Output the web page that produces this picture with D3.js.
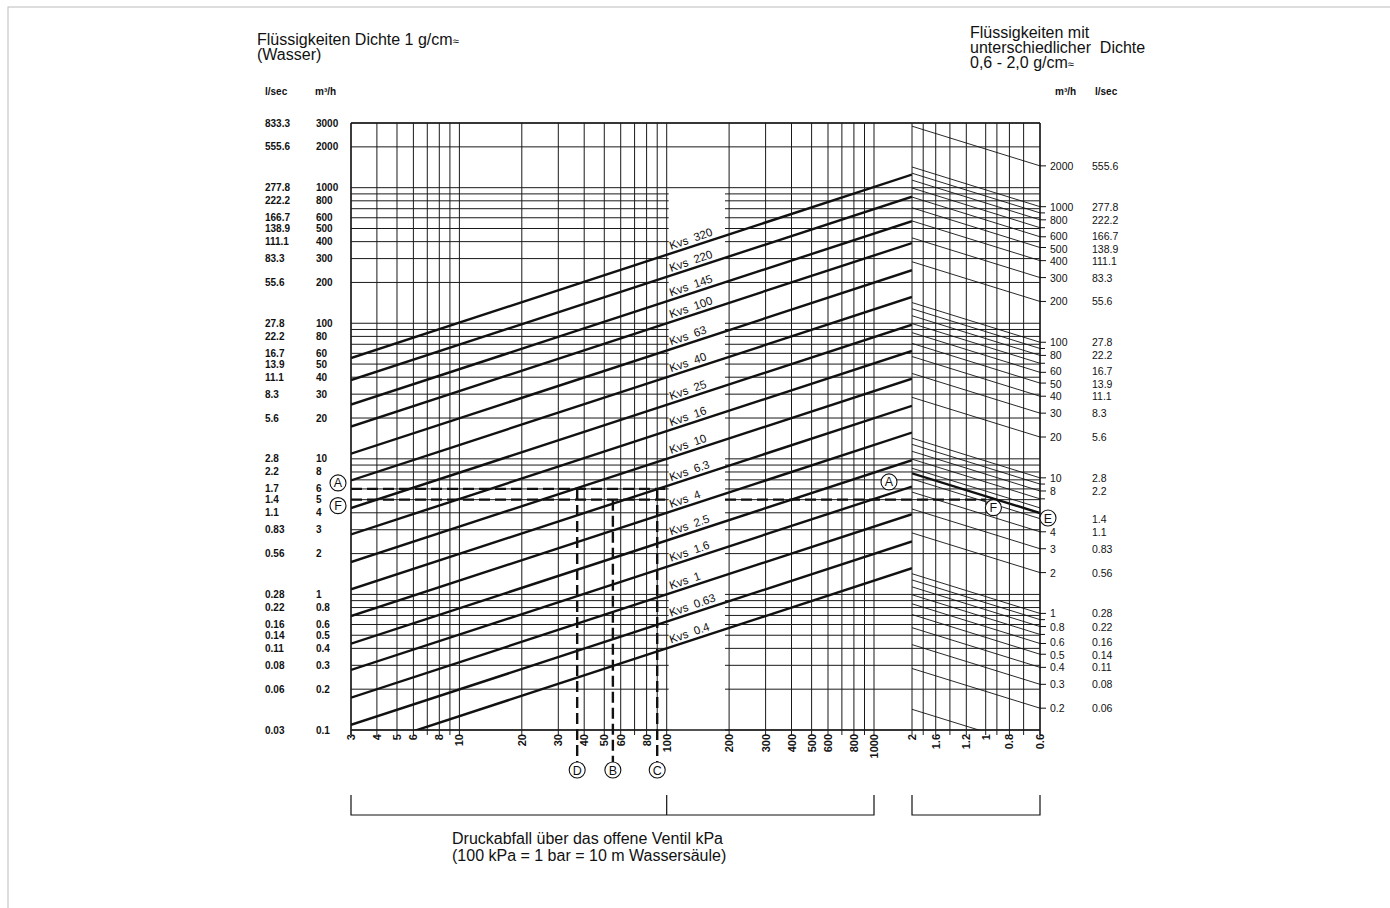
<!DOCTYPE html>
<html>
<head>
<meta charset="utf-8">
<script src="https://cdn.jsdelivr.net/npm/d3@7"></script>
<style>
  body { margin: 0; background: #fff; }
  text { font-family: "Liberation Sans", Arial, Helvetica, sans-serif; fill: #111; }
</style>
</head>
<body>
<div id="chart"></div>
<script>
// Kvs curves
const kvsValues = [320, 220, 145, 100, 63, 40, 25, 16, 10, 6.3, 4, 2.5, 1.6, 1, 0.63, 0.4];

// left flow axis (m3/h) with matching l/sec
const flowLabels = [3000, 2000, 1000, 800, 600, 500, 400, 300, 200, 100, 80, 60, 50, 40, 30, 20, 10, 8, 6, 5, 4, 3, 2, 1, 0.8, 0.6, 0.5, 0.4, 0.3, 0.2, 0.1];
const lsecLabels = ["833.3", "555.6", "277.8", "222.2", "166.7", "138.9", "111.1", "83.3", "55.6", "27.8", "22.2", "16.7", "13.9", "11.1", "8.3", "5.6", "2.8", "2.2", "1.7", "1.4", "1.1", "0.83", "0.56", "0.28", "0.22", "0.16", "0.14", "0.11", "0.08", "0.06", "0.03"];
const flowGrid = [0.1, 0.2, 0.3, 0.4, 0.5, 0.6, 0.7, 0.8, 0.9, 1, 2, 3, 4, 5, 6, 7, 8, 9, 10, 20, 30, 40, 50, 60, 70, 80, 90, 100, 200, 300, 400, 500, 600, 700, 800, 900, 1000, 2000, 3000];

// right flow axis (different density)
const rightFlowLabels = [2000, 1000, 800, 600, 500, 400, 300, 200, 100, 80, 60, 50, 40, 30, 20, 10, 8, 4, 3, 2, 1, 0.8, 0.6, 0.5, 0.4, 0.3, 0.2];
const rightLsecFlows = [2000, 1000, 800, 600, 500, 400, 300, 200, 100, 80, 60, 50, 40, 30, 20, 10, 8, 5, 4, 3, 2, 1, 0.8, 0.6, 0.5, 0.4, 0.3, 0.2];
const rightLsecLabels = ["555.6", "277.8", "222.2", "166.7", "138.9", "111.1", "83.3", "55.6", "27.8", "22.2", "16.7", "13.9", "11.1", "8.3", "5.6", "2.8", "2.2", "1.4", "1.1", "0.83", "0.56", "0.28", "0.22", "0.16", "0.14", "0.11", "0.08", "0.06"];
const rightMinorTicks = [900, 700, 90, 70, 9, 7, 0.9, 0.7];
const densityLineFlows = [2000, 1000, 900, 800, 700, 600, 500, 400, 300, 200, 100, 90, 80, 70, 60, 50, 40, 30, 20, 10, 9, 8, 7, 6, 5, 4, 3, 2, 1, 0.9, 0.8, 0.7, 0.6, 0.5, 0.4, 0.3, 0.2, 0.1];

// pressure drop (kPa)
const dpTicks = [3, 4, 5, 6, 8, 10, 20, 30, 40, 50, 60, 80, 100, 200, 300, 400, 500, 600, 800, 1000];
const dpGrid = [3, 4, 5, 6, 7, 8, 9, 10, 20, 30, 40, 50, 60, 70, 80, 90, 100, 200, 300, 400, 500, 600, 700, 800, 900, 1000];

// density (g/cm3)
const densityTicks = [2, 1.6, 1.2, 1, 0.8, 0.6];
const densityGrid = [2, 1.8, 1.6, 1.4, 1.2, 1, 0.9, 0.8, 0.7, 0.6];
const densityExp = 0.56;

// worked example
const flowA = 6, flowF = 5, flowE = 5.5, densityF = 0.93;
const exampleLetters = ["D", "B", "C"];
const exampleDp = [37, 55, 90];

const W = 1390, H = 908;
const plotLeft = 351, plotRight = 1040, plotTop = 123, plotBottom = 730, panelX = 912;

const x = d3.scaleLog().domain([3, 1000]).range([351, 874]);
const y = d3.scaleLog().domain([0.1, 3000]).range([plotBottom, plotTop]);
const yR = d3.scaleLog().domain([0.1, 3000]).range([plotBottom + 19, plotTop + 19]);
const xd = d3.scaleLog().domain([2, 0.6]).range([panelX, plotRight]);

const svg = d3.select("#chart").append("svg")
  .attr("width", W).attr("height", H);

svg.append("rect").attr("x", 8).attr("y", 7).attr("width", W).attr("height", H)
  .attr("fill", "none").attr("stroke", "#bbb");

const defs = svg.append("defs");
defs.append("clipPath").attr("id", "mainClip").append("rect")
  .attr("x", plotLeft).attr("y", plotTop).attr("width", panelX - plotLeft).attr("height", plotBottom - plotTop);
defs.append("clipPath").attr("id", "densClip").append("rect")
  .attr("x", panelX).attr("y", plotTop).attr("width", plotRight - panelX).attr("height", plotBottom - plotTop);

const grid = svg.append("g").attr("stroke", "#1a1a1a").attr("stroke-width", 1);

// horizontal grid, with a gap for the Kvs labels below 1000
const gapL = x(100) + 2, gapR = 725;
flowGrid.forEach(v => {
  if (v >= 1000) {
    grid.append("line").attr("x1", plotLeft).attr("x2", plotRight).attr("y1", y(v)).attr("y2", y(v));
  } else {
    grid.append("line").attr("x1", plotLeft).attr("x2", gapL).attr("y1", y(v)).attr("y2", y(v));
    grid.append("line").attr("x1", gapR).attr("x2", plotRight).attr("y1", y(v)).attr("y2", y(v));
  }
});
dpGrid.forEach(v => {
  grid.append("line").attr("x1", x(v)).attr("x2", x(v)).attr("y1", plotTop).attr("y2", plotBottom + 5);
});
densityGrid.forEach(v => {
  grid.append("line").attr("x1", xd(v)).attr("x2", xd(v)).attr("y1", plotTop).attr("y2", plotBottom + 5);
});
grid.append("line").attr("x1", plotLeft).attr("x2", plotRight).attr("y1", plotTop).attr("y2", plotTop).attr("stroke-width", 1.4);
grid.append("line").attr("x1", plotLeft).attr("x2", plotRight).attr("y1", plotBottom).attr("y2", plotBottom).attr("stroke-width", 1.4);
grid.append("line").attr("x1", plotRight).attr("x2", plotRight).attr("y1", plotTop).attr("y2", plotBottom + 5).attr("stroke-width", 1.4);
grid.append("line").attr("x1", plotLeft).attr("x2", plotLeft).attr("y1", plotTop).attr("y2", plotBottom + 5).attr("stroke-width", 1.4);

// Kvs lines: Q = Kvs * sqrt(dp / 100)
const dpMax = x.invert(panelX);
const kvsLine = d3.line().x(d => x(d[0])).y(d => y(d[1]));
const kvsG = svg.append("g").attr("clip-path", "url(#mainClip)");
kvsValues.forEach(k => {
  kvsG.append("path")
    .attr("d", kvsLine([[3, k * Math.sqrt(0.03)], [dpMax, k * Math.sqrt(dpMax / 100)]]))
    .attr("fill", "none").attr("stroke", "#111").attr("stroke-width", 2.4);
});

// Kvs labels
const angle = Math.atan2(y(Math.sqrt(10)) - y(1), x(1000) - x(100)) * 180 / Math.PI;
const labelX = 671;
kvsValues.forEach(k => {
  const q = k * Math.sqrt(x.invert(labelX) / 100);
  svg.append("text")
    .attr("transform", `translate(${labelX},${y(q) - 3.5}) rotate(${angle - 1})`)
    .attr("font-size", 11.5)
    .text("Kvs\u00a0\u00a0" + k);
});

// density lines
const densLine = d3.line().x(d => xd(d[0])).y(d => yR(d[1]));
const densG = svg.append("g").attr("clip-path", "url(#densClip)");
densityLineFlows.forEach(v => {
  densG.append("path")
    .attr("d", densLine([[2, v * Math.pow(2 / 0.6, densityExp)], [0.6, v]]))
    .attr("fill", "none").attr("stroke", "#111").attr("stroke-width", 0.9);
});
densG.append("path")
  .attr("d", densLine([[2, flowE * Math.pow(2 / 0.6, densityExp)], [0.6, flowE]]))
  .attr("fill", "none").attr("stroke", "#111").attr("stroke-width", 2.4);

// worked example dashed lines
const dash = svg.append("g").attr("stroke", "#111").attr("stroke-width", 2.4)
  .attr("stroke-dasharray", "11,5").attr("fill", "none");
dash.append("line").attr("x1", plotLeft).attr("x2", x(90) + 8).attr("y1", y(flowA)).attr("y2", y(flowA));
dash.append("line").attr("x1", plotLeft).attr("x2", x(90) + 8).attr("y1", y(flowF)).attr("y2", y(flowF));
dash.append("line").attr("x1", gapR).attr("x2", xd(densityF) - 8).attr("y1", y(flowF)).attr("y2", y(flowF));
exampleDp.forEach((d, i) => {
  dash.append("line").attr("x1", x(d)).attr("x2", x(d))
    .attr("y1", y(i === 1 ? flowF : flowA)).attr("y2", plotBottom + 32);
});

function marker(cx, cy, letter) {
  svg.append("circle").attr("cx", cx).attr("cy", cy).attr("r", 8)
    .attr("fill", "#fff").attr("stroke", "#111").attr("stroke-width", 1.1);
  svg.append("text").attr("x", cx).attr("y", cy + 4.5).attr("text-anchor", "middle")
    .attr("font-size", 12.5).text(letter);
}
marker(plotLeft - 13, y(flowA) - 6, "A");
marker(plotLeft - 13, y(flowF) + 6, "F");
exampleDp.forEach((d, i) => marker(x(d), plotBottom + 40, exampleLetters[i]));
marker(panelX - 23, y(flowA) - 7, "A");
marker(xd(densityF), y(flowF) + 8, "F");
marker(plotRight + 8, yR(flowE) + 5, "E");

// left axis labels
const lab = svg.append("g").attr("font-size", 10).attr("font-weight", "bold");
flowLabels.forEach((v, i) => {
  lab.append("text").attr("x", 316).attr("y", y(v) + 3.5).text(v);
  lab.append("text").attr("x", 265).attr("y", y(v) + 3.5).text(lsecLabels[i]);
});
lab.append("text").attr("x", 265).attr("y", 95).text("l/sec");
lab.append("text").attr("x", 315).attr("y", 95).text("m³/h");

// right axis; the crowded 6/5 pairs are nudged apart a little
const nudge = v => {
  const m = v / Math.pow(10, Math.floor(Math.log10(v) + 1e-9));
  return Math.abs(m - 6) < 1e-6 ? -1.2 : Math.abs(m - 5) < 1e-6 ? 1.2 : 0;
};
const rl = svg.append("g").attr("font-size", 10.5);
rightFlowLabels.forEach(v => {
  rl.append("line").attr("x1", plotRight).attr("x2", plotRight + 6).attr("y1", yR(v)).attr("y2", yR(v))
    .attr("stroke", "#111");
  rl.append("text").attr("x", plotRight + 10).attr("y", yR(v) + 4 + nudge(v)).text(v);
});
rightMinorTicks.forEach(v => {
  rl.append("line").attr("x1", plotRight).attr("x2", plotRight + 5).attr("y1", yR(v)).attr("y2", yR(v))
    .attr("stroke", "#111");
});
rightLsecFlows.forEach((v, i) => {
  rl.append("text").attr("x", 1092).attr("y", yR(v) + (v === 5 ? 4.5 : 4 + nudge(v))).text(rightLsecLabels[i]);
});
svg.append("text").attr("x", 1055).attr("y", 95).attr("font-size", 10).attr("font-weight", "bold").text("m³/h");
svg.append("text").attr("x", 1095).attr("y", 95).attr("font-size", 10).attr("font-weight", "bold").text("l/sec");

// bottom tick labels (rotated)
const bl = svg.append("g").attr("font-size", 11).attr("font-weight", "bold");
dpTicks.forEach(v => {
  bl.append("text").attr("transform", `translate(${x(v) + 4},${plotBottom + 4}) rotate(-90)`)
    .attr("text-anchor", "end").text(v);
});
densityTicks.forEach(v => {
  bl.append("text").attr("transform", `translate(${xd(v) + 4},${plotBottom + 4}) rotate(-90)`)
    .attr("text-anchor", "end").text(v);
});

// brackets
const br = svg.append("g").attr("stroke", "#111").attr("fill", "none").attr("stroke-width", 1.2);
br.append("path").attr("d", `M${x(3)},795V815H${x(1000)}V795M${x(100)},795V815`);
br.append("path").attr("d", `M${xd(2)},795V815H${xd(0.6)}V795`);

// titles
const t1 = svg.append("text").attr("x", 257).attr("y", 45).attr("font-size", 16);
t1.append("tspan").text("Flüssigkeiten Dichte 1 g/cm");
t1.append("tspan").attr("font-size", 11).text("≈");
svg.append("text").attr("x", 257).attr("y", 60).attr("font-size", 16).text("(Wasser)");

svg.append("text").attr("x", 970).attr("y", 38).attr("font-size", 16).text("Flüssigkeiten mit");
svg.append("text").attr("x", 970).attr("y", 53).attr("font-size", 16).attr("xml:space", "preserve")
  .text("unterschiedlicher  Dichte");
const t2 = svg.append("text").attr("x", 970).attr("y", 68).attr("font-size", 16);
t2.append("tspan").text("0,6 - 2,0 g/cm");
t2.append("tspan").attr("font-size", 11).text("≈");

svg.append("text").attr("x", 452).attr("y", 844).attr("font-size", 16)
  .text("Druckabfall über das offene Ventil kPa");
svg.append("text").attr("x", 452).attr("y", 861).attr("font-size", 16)
  .text("(100 kPa = 1 bar = 10 m Wassersäule)");
</script>
</body>
</html>
